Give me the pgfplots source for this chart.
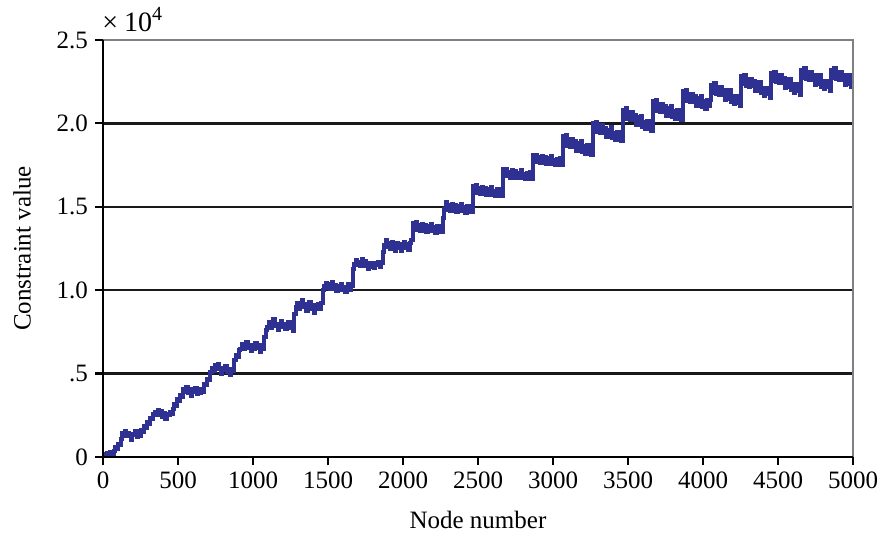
\documentclass[border=0pt]{standalone}
\usepackage{fontspec}
\setmainfont{Liberation Serif}
\usepackage{pgfplots}
\usepackage{pgfplotstable}
\pgfplotsset{compat=1.18}
\definecolor{lineblue}{RGB}{46,49,146}
\definecolor{framegray}{RGB}{125,128,132}
\pgfplotstableread{
x y
0 0
10 150
20 50
30 250
40 120
50 300
60 180
70 350
80 600
90 450
100 800
110 700
120 1100
125 1450
135 1300
145 1550
155 1250
165 1450
175 1350
185 1000
195 1400
205 1300
215 1550
225 1200
235 1350
245 1250
255 1600
265 1500
275 1850
285 1750
295 2100
305 2000
315 2350
325 2250
335 2600
345 2700
355 2500
365 2800
375 2600
385 2750
395 2400
405 2650
415 2250
425 2600
435 2500
445 2700
455 2550
465 2900
475 3200
485 3050
495 3450
505 3350
515 3700
525 3600
535 4050
545 3900
555 4200
565 3850
575 4050
585 3650
595 4000
605 3900
615 4150
625 3750
635 4000
645 3850
655 4050
665 3900
675 4400
685 4300
695 4700
705 4600
715 5100
725 5350
735 5150
745 5500
755 5250
765 5600
775 5300
785 4950
795 5350
805 5200
815 5450
825 5100
835 5300
845 4900
855 5250
865 5150
875 5800
885 6100
895 6000
905 6400
915 6500
925 6800
935 6450
945 6650
955 6900
965 6550
975 6700
985 6350
995 6650
1005 6500
1015 6850
1025 6550
1035 6700
1045 6300
1055 6600
1065 6500
1075 7200
1085 7600
1095 7800
1105 8100
1115 7750
1125 7950
1135 8250
1145 7850
1155 8000
1165 7600
1175 7900
1185 8150
1195 7800
1205 7950
1215 7650
1225 7850
1235 8100
1245 7750
1255 7900
1265 7550
1275 8600
1285 9000
1295 9250
1305 8900
1315 9100
1325 9400
1335 9000
1345 9150
1355 8750
1365 9050
1375 9300
1385 8850
1395 9100
1405 8650
1415 9000
1425 8850
1435 9200
1445 8900
1455 9250
1465 10000
1475 10250
1485 10450
1495 10150
1505 10350
1515 10050
1525 10500
1535 10200
1545 10300
1555 9950
1565 10250
1575 10100
1585 10400
1595 10000
1605 10200
1615 9900
1625 10150
1635 10350
1645 10000
1655 10250
1665 11300
1675 11600
1685 11800
1695 11500
1705 11700
1715 11450
1725 11850
1735 11600
1745 11750
1755 11450
1765 11300
1775 11650
1785 11400
1795 11600
1805 11350
1815 11650
1825 11500
1835 11700
1845 11400
1855 11650
1865 12300
1875 12700
1885 13000
1895 12600
1905 12850
1915 12450
1925 12900
1935 12650
1945 12350
1955 12800
1965 12550
1975 12750
1985 12350
1995 12700
2005 12900
2015 12500
2025 12750
2035 12400
2045 12800
2055 13000
2065 14050
2075 13690
2085 14080
2095 13620
2105 13910
2115 13550
2125 13990
2135 13680
2145 13920
2155 13510
2165 13850
2175 13590
2185 13980
2195 13520
2205 13760
2215 13450
2225 13840
2235 13580
2245 13870
2255 13460
2265 14300
2275 14890
2285 15280
2295 14820
2305 15110
2315 14750
2325 15190
2335 14880
2345 15120
2355 14710
2365 15050
2375 14790
2385 15180
2395 14720
2405 14960
2415 14650
2425 15040
2435 14780
2445 15070
2455 14660
2465 16250
2475 15890
2485 16280
2495 15820
2505 16110
2515 15750
2525 16190
2535 15880
2545 16120
2555 15710
2565 16050
2575 15790
2585 16180
2595 15720
2605 15960
2615 15650
2625 16040
2635 15780
2645 16070
2655 15660
2665 17250
2675 16890
2685 17280
2695 16820
2705 17110
2715 16750
2725 17190
2735 16880
2745 17120
2755 16710
2765 17050
2775 16790
2785 17180
2795 16720
2805 16960
2815 16650
2825 17040
2835 16780
2845 17070
2855 16660
2865 18100
2875 17740
2885 18130
2895 17670
2905 17960
2915 17600
2925 18040
2935 17730
2945 17970
2955 17560
2965 17900
2975 17640
2985 18030
2995 17570
3005 17810
3015 17500
3025 17890
3035 17630
3045 17920
3055 17510
3065 19230
3075 18740
3085 19300
3095 18670
3105 19090
3115 18600
3125 19080
3135 18630
3145 18950
3155 18360
3165 18815
3175 18435
3185 18965
3195 18305
3205 18625
3215 18175
3225 18700
3235 18320
3245 18710
3255 18120
3265 20030
3275 19540
3285 20100
3295 19470
3305 19890
3315 19400
3325 19880
3335 19430
3345 19750
3355 19160
3365 19615
3375 19235
3385 19765
3395 19105
3405 19425
3415 18975
3425 19500
3435 19120
3445 19510
3455 18920
3465 20830
3475 20340
3485 20900
3495 20270
3505 20690
3515 20200
3525 20680
3535 20214
3545 20518
3555 19912
3565 20355
3575 19959
3585 20473
3595 19797
3605 20101
3615 19635
3625 20148
3635 19752
3645 20126
3655 19520
3665 21330
3675 20840
3685 21400
3695 20770
3705 21190
3715 20700
3725 21180
3735 20730
3745 21050
3755 20460
3765 20915
3775 20535
3785 21065
3795 20405
3805 20725
3815 20275
3825 20800
3835 20420
3845 20810
3855 20220
3865 21930
3875 21440
3885 22000
3895 21370
3905 21790
3915 21300
3925 21780
3935 21330
3945 21650
3955 21060
3965 21515
3975 21135
3985 21665
3995 21005
4005 21325
4015 20875
4025 21400
4035 21020
4045 21410
4055 22330
4065 21840
4075 22400
4085 21770
4095 22190
4105 21700
4115 22180
4125 21714
4135 22018
4145 21412
4155 21855
4165 21459
4175 21973
4185 21297
4195 21601
4205 21135
4215 21648
4225 21252
4235 21626
4245 21020
4255 22830
4265 22340
4275 22900
4285 22270
4295 22690
4305 22200
4315 22680
4325 22214
4335 22518
4345 21912
4355 22355
4365 21959
4375 22473
4385 21797
4395 22101
4405 21635
4415 22148
4425 21752
4435 22126
4445 21520
4455 23030
4465 22540
4475 23100
4485 22470
4495 22890
4505 22400
4515 22880
4525 22414
4535 22718
4545 22112
4555 22555
4565 22159
4575 22673
4585 21997
4595 22301
4605 21835
4615 22348
4625 21952
4635 22326
4645 21720
4655 23230
4665 22740
4675 23300
4685 22670
4695 23090
4705 22600
4715 23080
4725 22614
4735 22918
4745 22312
4755 22755
4765 22359
4775 22873
4785 22197
4795 22501
4805 22035
4815 22548
4825 22152
4835 22526
4845 21920
4855 23230
4865 22740
4875 23300
4885 22670
4895 23090
4905 22600
4915 23080
4925 22614
4935 22918
4945 22312
4955 22755
4965 22359
4975 22873
4985 22197
4995 22501
5000 22300
}\datatable
\begin{document}
\begin{tikzpicture}
\useasboundingbox (-51.5pt,-38pt) rectangle (389pt,228.5pt);
\begin{axis}[
  name=ax,
  at={(0,0)}, anchor=south west,
  scale only axis, width=375pt, height=208.5pt,
  xmin=0, xmax=5000, ymin=0, ymax=25000,
  xtick={0,500,...,5000},
  ytick={0,5000,10000,15000,20000,25000},
  yticklabels={0,.5,1.0,1.5,2.0,2.5},
  scaled x ticks=false, scaled y ticks=false,
  xticklabel style={/pgf/number format/1000 sep={}},
  /pgf/number format/assume math mode=true,
  tick label style={font=\fontsize{12.5}{15}\selectfont, black},
  label style={font=\fontsize{12.5}{15}\selectfont},
  xtick pos=bottom, ytick pos=left,
  tick align=outside,
  major tick length=4pt,
  tick style={black, line width=1.1pt},
  ymajorgrids, major grid style={black!90, line width=1.2pt},
  axis line style={draw=none},
  xlabel={Node number},
  ylabel={Constraint value},
  xlabel style={at={(axis description cs:0.5,-0.151)}, anchor=center},
  ylabel style={at={(axis description cs:-0.108,0.5)}, anchor=center},
  clip mode=individual,
]
\addplot[const plot, color=lineblue, line width=2pt] table[x=x,y=y] {\datatable};
\draw[framegray, line width=1.1pt] (rel axis cs:0,1) -- (rel axis cs:1,1) -- (rel axis cs:1,0);
\draw[black, line width=1.1pt] (rel axis cs:0,1) -- (rel axis cs:0,0) -- (rel axis cs:1,0);
\end{axis}
\node[anchor=base west, inner sep=0pt, font=\fontsize{14}{16}\selectfont] at ([xshift=-0.5pt,yshift=4pt]ax.north west) {×\hspace{3pt}10\raisebox{0.42em}{\fontsize{10}{12}\selectfont 4}};
\end{tikzpicture}
\end{document}
